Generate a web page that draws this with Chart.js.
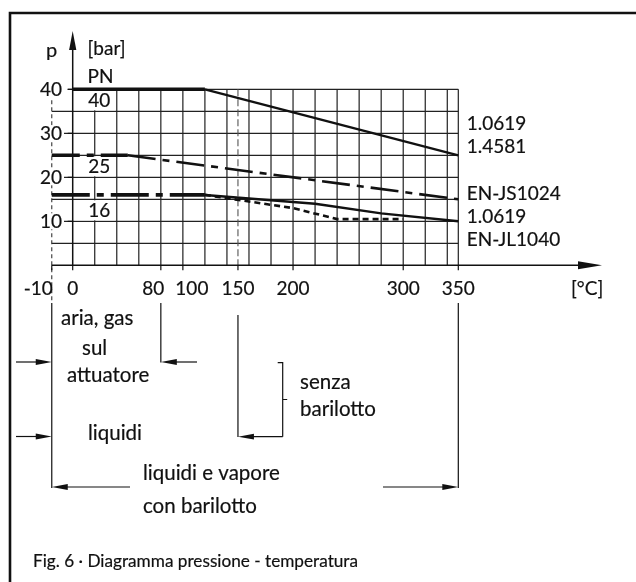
<!DOCTYPE html>
<html>
<head>
<meta charset="utf-8">
<script src="https://cdn.jsdelivr.net/npm/chart.js@4.4.1/dist/chart.umd.min.js"></script>
<style>
html,body{margin:0;padding:0;background:#fff;}
#wrap{width:636px;height:582px;position:relative;}
canvas{display:block;}
</style>
</head>
<body>
<div id="wrap"><canvas id="c" width="636" height="582"></canvas></div>
<script>
// ---------------- data ----------------
// PN 40 – 1.0619 / 1.4581
const pn40Temp = [0, 120, 350];
const pn40Press = [40, 40, 25];
// PN 25 – EN-JS1024
const pn25Temp = [-10, 50, 350];
const pn25Press = [25, 25, 15];
// PN 16 – 1.0619
const pn16SteelTemp = [-10, 120, 220, 280, 350];
const pn16SteelPress = [16, 16, 14, 11.8, 10];
// PN 16 – EN-JL1040
const pn16CastTemp = [120, 200, 240, 300];
const pn16CastPress = [16, 13, 10.5, 10.5];

const xTickValues = [-10, 0, 80, 100, 150, 200, 300, 350];
const xTickLabels = ['-10', '0', '80', '100', '150', '200', '300', '350'];
const yTickValues = [10, 20, 30, 40];
const yTickLabels = ['10', '20', '30', '40'];
const pnValues = [40, 25, 16];
const pnLabels = ['40', '25', '16'];
const materialLabels = ['1.0619', '1.4581', 'EN-JS1024', '1.0619', 'EN-JL1040'];

const xUnit = '[°C]';
const yName = 'p';
const yUnit = '[bar]';
const pnTitle = 'PN';
const figTitle = 'Fig. 6 · Diagramma pressione - temperatura';

// ---------------- scale with a compressed range below 0 °C ----------------
const LinearScale = Chart.LinearScale;
class TempScale extends LinearScale {
  getPixelForValue(value) {
    return super.getPixelForValue(value < 0 ? value * 1.9 : value);
  }
}
TempScale.id = 'temp';
TempScale.defaults = Object.assign({}, LinearScale.defaults);
Chart.register(TempScale);

const pts = (t, p) => t.map((x, i) => ({ x: x, y: p[i] }));
const INK = '#111';
const FONT = 'Lato, "Open Sans", sans-serif';

// ---------------- drawing of frame, grid, axes, labels ----------------
const diagramPlugin = {
  id: 'diagram',
  beforeDatasetsDraw(chart) {
    const ctx = chart.ctx;
    const xs = chart.scales.x, ys = chart.scales.y;
    const X = v => xs.getPixelForValue(v);
    const Y = v => ys.getPixelForValue(v);
    const text = (s, x, y) => { ctx.fillText(s, x, y); ctx.strokeText(s, x, y); };
    ctx.save();
    ctx.lineCap = 'butt';

    // frame
    ctx.strokeStyle = INK; ctx.lineWidth = 2.6;
    ctx.beginPath(); ctx.moveTo(10, 582); ctx.lineTo(10, 13); ctx.lineTo(636, 13); ctx.stroke();

    // vertical grid every 20 °C
    ctx.strokeStyle = '#222'; ctx.lineWidth = 1.2;
    ctx.beginPath();
    for (let t = 20; t <= 340; t += 20) { ctx.moveTo(X(t), Y(40)); ctx.lineTo(X(t), Y(0)); }
    ctx.moveTo(X(350), Y(40)); ctx.lineTo(X(350), Y(0));
    ctx.stroke();
    // horizontal grid every 5 bar
    ctx.beginPath();
    for (let p = 5; p <= 35; p += 5) { ctx.moveTo(X(-10), Y(p)); ctx.lineTo(X(350), Y(p)); }
    ctx.moveTo(X(0) - 5, Y(40)); ctx.lineTo(X(350), Y(40));
    ctx.stroke();

    // dashed lines at -10 and 150
    ctx.lineWidth = 1.1; ctx.strokeStyle = '#333';
    ctx.setLineDash([4, 3]);
    ctx.beginPath(); ctx.moveTo(X(-10), Y(37.5)); ctx.lineTo(X(-10), 303); ctx.stroke();
    ctx.setLineDash([7, 3]);
    ctx.strokeStyle = '#555';
    ctx.beginPath(); ctx.moveTo(X(150), Y(40)); ctx.lineTo(X(150), Y(0)); ctx.stroke();
    ctx.setLineDash([]);

    // axes
    ctx.strokeStyle = INK; ctx.fillStyle = INK; ctx.lineWidth = 1.5;
    ctx.beginPath();
    ctx.moveTo(X(0), Y(0)); ctx.lineTo(X(0), 40);
    ctx.moveTo(X(-10), Y(0)); ctx.lineTo(590, Y(0));
    ctx.stroke();
    ctx.beginPath(); ctx.moveTo(X(0), 31); ctx.lineTo(X(0) - 3.6, 50); ctx.lineTo(X(0) + 3.6, 50); ctx.closePath(); ctx.fill();
    ctx.beginPath(); ctx.moveTo(602, Y(0)); ctx.lineTo(578, Y(0) - 4); ctx.lineTo(578, Y(0) + 4); ctx.closePath(); ctx.fill();

    // tick marks
    ctx.lineWidth = 1.2;
    ctx.beginPath();
    xTickValues.forEach(v => { ctx.moveTo(X(v), Y(0)); ctx.lineTo(X(v), Y(0) + 5); });
    yTickValues.forEach(v => { ctx.moveTo(X(0) - 5, Y(v)); ctx.lineTo(X(0), Y(v)); });
    ctx.stroke();

    // text style
    ctx.textBaseline = 'alphabetic';
    ctx.lineWidth = 0.2;
    ctx.strokeStyle = INK;
    ctx.font = '19px ' + FONT;

    // PN label boxes (white) and PN labels
    ctx.textAlign = 'left';
    pnValues.forEach((p, i) => {
      const top = Math.floor(p / 5) * 5;
      const y1 = Y(top), y2 = Y(top - 5);
      ctx.fillStyle = '#fff';
      ctx.fillRect(X(0) + 1.5, y1 + 1, X(40) - X(0) - 3, y2 - y1 - 2);
      ctx.fillStyle = INK;
      text(pnLabels[i], X(0) + 15.5, (y1 + y2) / 2 + 7);
    });

    // y tick labels
    ctx.textAlign = 'right';
    yTickValues.forEach((v, i) => {
      const w = ctx.measureText(yTickLabels[i]).width;
      ctx.fillStyle = '#fff';
      ctx.fillRect(62 - w - 1, Y(v) - 8, w + 3, 16);
      ctx.fillStyle = INK;
      text(yTickLabels[i], 62, Y(v) + 6.6);
    });

    // x tick labels (slightly nudged where they would collide)
    const nudge = { '-10': -13.5, '80': -7.5, '100': 9 };
    ctx.textAlign = 'center';
    xTickValues.forEach((v, i) => {
      const lab = xTickLabels[i];
      text(lab, X(v) + (nudge[lab] || 0), 295);
    });
    ctx.textAlign = 'left';
    text(xUnit, 571, 295);

    // axis names
    ctx.font = '20px ' + FONT;
    text(yName, 46, 57);
    ctx.font = '19px ' + FONT;
    text(yUnit, 87.5, 55);
    text(pnTitle, 87.5, 83);

    // material labels on the right
    const matY = [130, 153, 200, 223, 246];
    materialLabels.forEach((m, i) => text(m, X(350) + 8.5, matY[i]));

    // ---------- application ranges below the diagram ----------
    ctx.strokeStyle = INK; ctx.fillStyle = INK; ctx.lineWidth = 1.2;
    ctx.beginPath();
    ctx.moveTo(X(-10), 303); ctx.lineTo(X(-10), 488);
    ctx.moveTo(X(80), 303); ctx.lineTo(X(80), 362.5);
    ctx.moveTo(X(150), 315); ctx.lineTo(X(150), 437);
    ctx.moveTo(X(350), 303); ctx.lineTo(X(350), 488);
    // bracket "senza barilotto"
    const bx = 282.7;
    ctx.moveTo(bx - 5, 362.7); ctx.lineTo(bx, 362.7); ctx.lineTo(bx, 436.7);
    ctx.moveTo(bx, 399.5); ctx.lineTo(bx + 4.5, 399.5);
    ctx.stroke();

    const arrow = (x1, y, x2) => {
      const dir = Math.sign(x2 - x1);
      ctx.beginPath(); ctx.moveTo(x1, y); ctx.lineTo(x2 - dir * 10, y); ctx.stroke();
      ctx.beginPath(); ctx.moveTo(x2, y); ctx.lineTo(x2 - dir * 16, y - 2.9); ctx.lineTo(x2 - dir * 16, y + 2.9); ctx.closePath(); ctx.fill();
    };
    arrow(16, 362, X(-10));
    arrow(197, 362, X(80));
    arrow(16, 436.5, X(-10));
    arrow(bx, 436.7, X(150));
    arrow(130, 487, X(-10));
    arrow(383, 487, X(350));

    ctx.lineWidth = 0.2;
    ctx.font = '20.5px ' + FONT;
    ctx.textAlign = 'left';
    text('aria, gas', 61, 325);
    text('sul', 82, 355);
    text('attuatore', 67, 381.5);
    text('liquidi', 88, 440);
    text('senza', 300, 389);
    text('barilotto', 300, 416);
    text('liquidi e vapore', 143, 480);
    text('con barilotto', 143, 513);

    ctx.font = '17.2px ' + FONT;
    text(figTitle, 33, 567);
    ctx.restore();
  }
};

const chart = new Chart(document.getElementById('c'), {
  type: 'line',
  data: {
    datasets: [
      {
        label: 'PN 40 – 1.0619 / 1.4581',
        data: pts(pn40Temp, pn40Press),
        borderColor: INK, borderWidth: 2.3,
        segment: { borderWidth: c => c.p0DataIndex === 0 ? 3.6 : 2.3 }
      },
      {
        label: 'PN 25 – EN-JS1024',
        data: pts(pn25Temp, pn25Press),
        borderColor: INK, borderWidth: 2.6, borderDash: [28, 7, 7, 7],
        segment: { borderWidth: c => c.p0DataIndex === 0 ? 3.6 : 2.6 }
      },
      {
        label: 'PN 16 – 1.0619',
        data: pts(pn16SteelTemp, pn16SteelPress),
        borderColor: INK, borderWidth: 2.5,
        segment: {
          borderWidth: c => c.p0DataIndex === 0 ? 3.6 : 2.5,
          borderDash: c => c.p0DataIndex === 0 ? [38, 7, 7, 7] : []
        }
      },
      {
        label: 'PN 16 – EN-JL1040',
        data: pts(pn16CastTemp, pn16CastPress),
        borderColor: INK, borderWidth: 2.6, borderDash: [6, 4]
      }
    ]
  },
  options: {
    responsive: false,
    animation: false,
    devicePixelRatio: 1,
    layout: { padding: { left: 51.77, right: 636 - 458.3, top: 89.3, bottom: 582 - 265.3 } },
    elements: { point: { radius: 0, hoverRadius: 0 }, line: { tension: 0, borderCapStyle: 'butt', borderJoinStyle: 'miter', fill: false } },
    datasets: { line: { clip: false } },
    scales: {
      x: { type: 'temp', min: -19, max: 350, display: false },
      y: { type: 'linear', min: 0, max: 40, display: false }
    },
    plugins: { legend: { display: false }, tooltip: { enabled: false } },
    events: []
  },
  plugins: [diagramPlugin]
});
if (document.fonts && document.fonts.ready) document.fonts.ready.then(() => chart.draw());
</script>
</body>
</html>
